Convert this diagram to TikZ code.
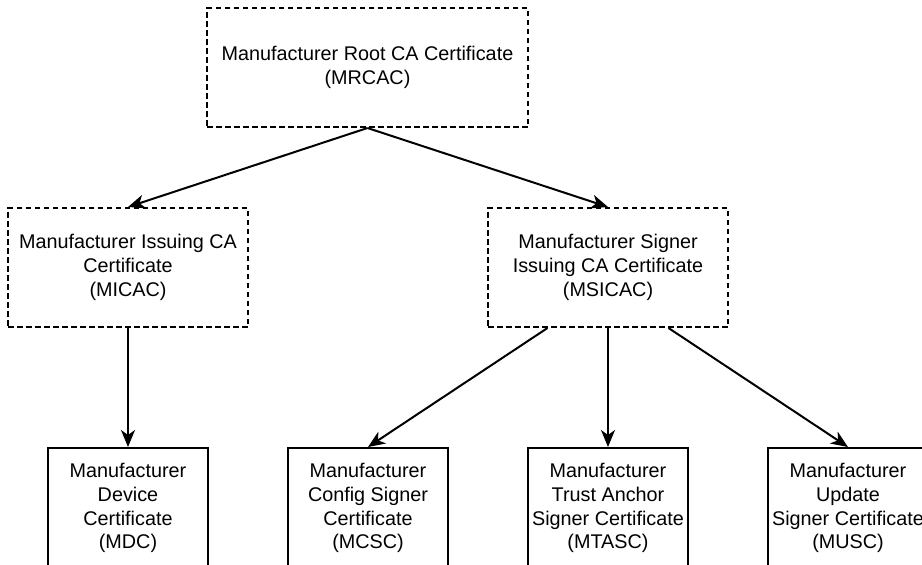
\documentclass[tikz,border=0pt]{standalone}
\usepackage{fontspec}
\setmainfont{Liberation Sans}
\usetikzlibrary{arrows.meta,calc}
\begin{document}
\begin{tikzpicture}[x=1pt,y=-1pt,
  box/.style={draw=black,line width=2pt,rectangle,inner sep=0pt,align=center,
    font=\fontsize{19.8pt}{23.8pt}\selectfont},
  dbox/.style={box,dash pattern=on 5.5pt off 3.5pt},
  conn/.style={draw=black,line width=2pt,-{Stealth[length=17pt,width=14pt,inset=5pt]}}]
\clip (0,0) rectangle (922,565);
\fill[white] (0,0) rectangle (922,565);
\node[dbox,minimum width=321pt,minimum height=119pt] (root) at (367.5,67.5)
  {Manufacturer Root CA Certificate\\(MRCAC)};
\node[dbox,minimum width=240pt,minimum height=119pt] (mic) at (128,267.5)
  {Manufacturer Issuing CA\\Certificate\\(MICAC)};
\node[dbox,minimum width=240pt,minimum height=119pt] (msi) at (608,267.5)
  {Manufacturer Signer\\Issuing CA Certificate\\(MSICAC)};
\node[box,minimum width=160pt,minimum height=120pt] (mdc) at (128,508)
  {Manufacturer\\Device\\Certificate\\(MDC)};
\node[box,minimum width=160pt,minimum height=120pt] (mcsc) at (368,508)
  {Manufacturer\\Config Signer\\Certificate\\(MCSC)};
\node[box,minimum width=160pt,minimum height=120pt] (mtasc) at (608,508)
  {Manufacturer\\Trust Anchor\\Signer Certificate\\(MTASC)};
\node[box,minimum width=160pt,minimum height=120pt] (musc) at (848,508)
  {Manufacturer\\Update\\Signer Certificate\\(MUSC)};
\coordinate (msiA) at ($(msi.south west)!0.25!(msi.south east)$);
\coordinate (msiC) at ($(msi.south west)!0.75!(msi.south east)$);
\draw[conn] (root.south) -- (mic.north);
\draw[conn] (root.south) -- (msi.north);
\draw[conn] (mic.south) -- (mdc.north);
\draw[conn] (msiA) -- (mcsc.north);
\draw[conn] (msi.south) -- (mtasc.north);
\draw[conn] (msiC) -- (musc.north);
\end{tikzpicture}
\end{document}
